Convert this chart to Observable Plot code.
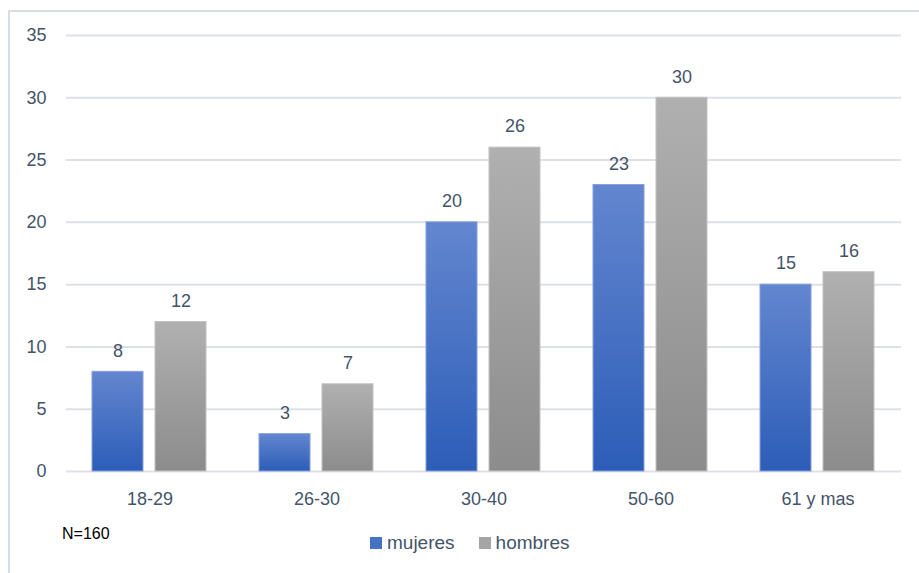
<!DOCTYPE html>
<html>
<head>
<meta charset="utf-8">
<script src="https://cdn.jsdelivr.net/npm/d3@7"></script>
<script src="https://cdn.jsdelivr.net/npm/@observablehq/plot@0.6"></script>
<style>
  html, body { margin: 0; padding: 0; background: #fff; }
  body { width: 919px; height: 573px; overflow: hidden; position: relative; font-family: "Liberation Sans", Arial, sans-serif; }
  #frame { position: absolute; left: 8px; top: 10px; width: 911px; height: 563px;
           border-top: 2px solid #d9dde3; border-left: 2px solid #d9dde3; box-sizing: border-box; }
  #chart { position: absolute; left: -2px; top: -2px; }
  #footer { position: absolute; left: -2px; top: 498px; width: 911px; height: 60px; }
  #note { position: absolute; left: 54px; top: 15px; font-size: 16px; color: #000; }
  #legend { position: absolute; left: 362px; top: 22px; display: flex; align-items: center; gap: 0; font-size: 19px; color: #44546a; }
  .sw { width: 12px; height: 12px; display: inline-block; margin-right: 5px; }
  .item { display: flex; align-items: center; margin-right: 24px; }
</style>
</head>
<body>
<div id="frame">
  <div id="chart"></div>
  <div id="footer">
    <div id="note">N=160</div>
    <div id="legend"></div>
  </div>
</div>
<script>
const categories = ["18-29", "26-30", "30-40", "50-60", "61 y mas"];
const series = ["mujeres", "hombres"];
const mujeres = [8, 3, 20, 23, 15];
const hombres = [12, 7, 26, 30, 16];
const yTicks = [0, 5, 10, 15, 20, 25, 30, 35];

const legendColors = {mujeres: "#4472C4", hombres: "#A5A5A5"};

const data = [];
categories.forEach((c, i) => {
  data.push({cat: c, series: "mujeres", value: mujeres[i]});
  data.push({cat: c, series: "hombres", value: hombres[i]});
});

const textColor = "#44546a";

const plot = Plot.plot({
  width: 911,
  height: 500,
  marginLeft: 57,
  marginRight: 17,
  marginTop: 25,
  marginBottom: 39,
  style: {fontFamily: "'Liberation Sans', Arial, sans-serif", fontSize: "18px", color: textColor, background: "transparent"},
  fx: {domain: categories, paddingInner: 0, paddingOuter: 0, label: null, axis: null},
  x: {domain: series, paddingInner: 0.1875, paddingOuter: 0.4, axis: null},
  y: {domain: [0, 35], axis: null},
  marks: [
    Plot.ruleY(yTicks, {y: d => d, stroke: "#dde1e7", strokeWidth: 2}),
    Plot.axisY({ticks: yTicks, tickSize: 0, tickPadding: 20, label: null, fontSize: 18, fill: textColor, anchor: "left"}),
    Plot.axisFx({tickSize: 0, tickPadding: 21, label: null, fontSize: 18, fill: textColor, anchor: "bottom"}),
    Plot.barY(data.filter(d => d.series === "mujeres"), {fx: "cat", x: "series", y: "value", fill: "url(#gradBlue)", stroke: "#86a0d9", strokeWidth: 1}),
    Plot.barY(data.filter(d => d.series === "hombres"), {fx: "cat", x: "series", y: "value", fill: "url(#gradGray)", stroke: "#c2c2c2", strokeWidth: 1}),
    Plot.text(data, {fx: "cat", x: "series", y: "value", text: d => String(d.value), dy: -21, fontSize: 18, fill: textColor, lineAnchor: "middle"})
  ]
});

// gradient defs
const ns = "http://www.w3.org/2000/svg";
const defs = document.createElementNS(ns, "defs");
function grad(id, top, bottom) {
  const g = document.createElementNS(ns, "linearGradient");
  g.setAttribute("id", id);
  g.setAttribute("x1", "0"); g.setAttribute("y1", "0");
  g.setAttribute("x2", "0"); g.setAttribute("y2", "1");
  [[0, top], [1, bottom]].forEach(([o, c]) => {
    const s = document.createElementNS(ns, "stop");
    s.setAttribute("offset", o);
    s.setAttribute("stop-color", c);
    g.appendChild(s);
  });
  defs.appendChild(g);
}
grad("gradBlue", "#6386cf", "#2c5db8");
grad("gradGray", "#b0b0b0", "#8c8c8c");
plot.insertBefore(defs, plot.firstChild);

document.getElementById("chart").appendChild(plot);

// legend
const legend = document.getElementById("legend");
series.forEach(s => {
  const item = document.createElement("div");
  item.className = "item";
  const sw = document.createElement("span");
  sw.className = "sw";
  sw.style.background = legendColors[s];
  const t = document.createElement("span");
  t.textContent = s;
  item.appendChild(sw);
  item.appendChild(t);
  legend.appendChild(item);
});
</script>
</body>
</html>
